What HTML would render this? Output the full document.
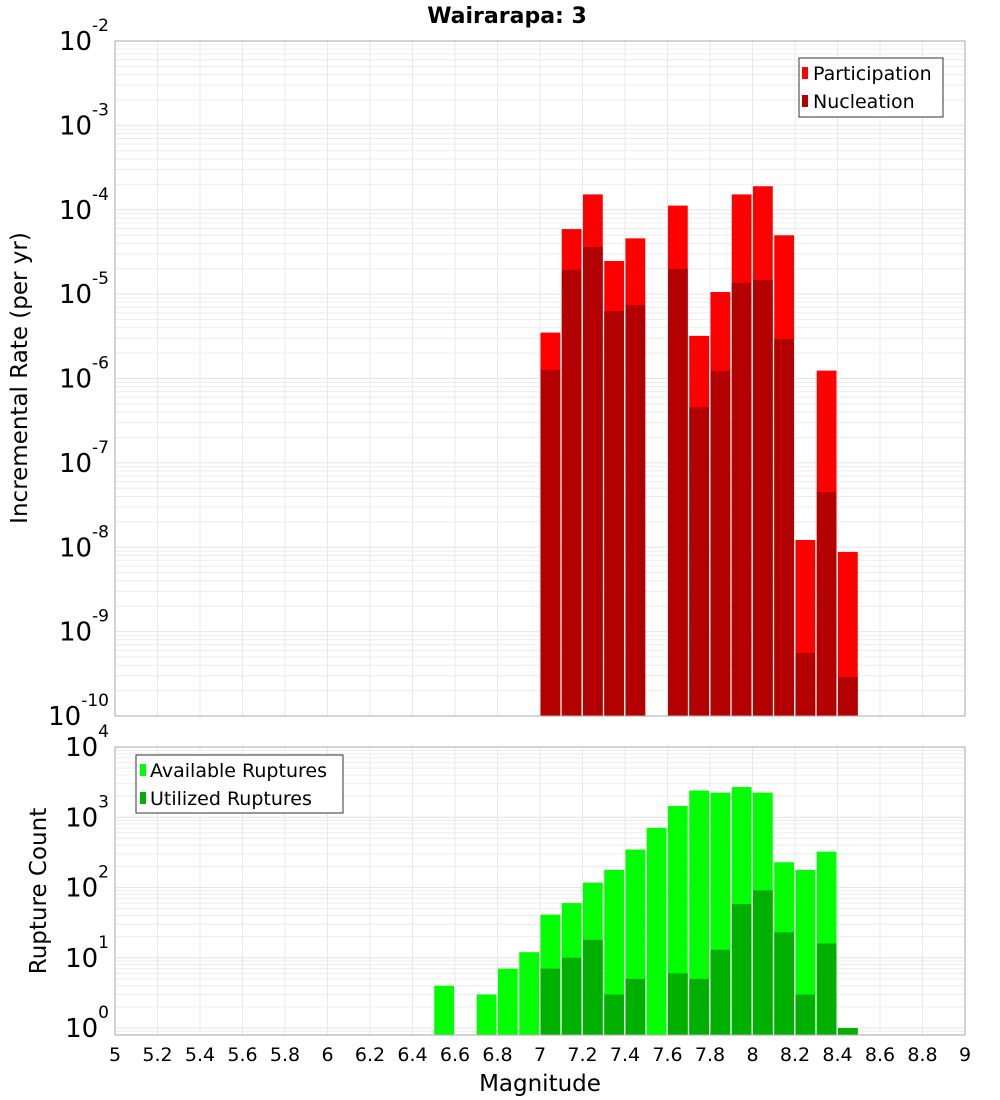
<!DOCTYPE html>
<html><head><meta charset="utf-8"><style>
body{margin:0;background:#fff;}
svg{display:block;font-family:"DejaVu Sans","Liberation Sans",sans-serif;}
</style></head><body>
<svg id="chart" width="1000" height="1100">
<text x="507" y="23" text-anchor="middle" font-size="22" font-weight="bold">Wairarapa: 3</text>
<text transform="translate(27,378) rotate(-90)" text-anchor="middle" font-size="23">Incremental Rate (per yr)</text>
<text transform="translate(46,891) rotate(-90)" text-anchor="middle" font-size="23">Rupture Count</text>
<text x="540" y="1091" text-anchor="middle" font-size="23">Magnitude</text>
<g id="top"></g>
<g id="bot"></g>
<g>
<rect x="799" y="58" width="144" height="59" fill="#fff" stroke="#333" stroke-width="1"/>
<rect x="802" y="67" width="6" height="12" fill="#ff0000"/>
<text x="813" y="80" font-size="19">Participation</text>
<rect x="802" y="95" width="6" height="12" fill="#b00000"/>
<text x="813" y="108" font-size="19">Nucleation</text>
</g>
<g>
<rect x="136" y="755" width="207" height="58" fill="#fff" stroke="#333" stroke-width="1"/>
<rect x="140" y="764" width="6" height="12" fill="#00ff00"/>
<text x="150" y="777" font-size="19">Available Ruptures</text>
<rect x="140" y="792" width="6" height="12" fill="#00b000"/>
<text x="150" y="805" font-size="19">Utilized Ruptures</text>
</g>
</svg>
<script>
const bins=[7.0,7.1,7.2,7.3,7.4,7.6,7.7,7.8,7.9,8.0,8.1,8.2,8.3,8.4];
const participation=[3.5e-6,5.9e-5,1.52e-4,2.47e-5,4.58e-5,1.12e-4,3.2e-6,1.06e-5,1.52e-4,1.9e-4,4.98e-5,1.22e-8,1.24e-6,8.8e-9];
const nucleation=[1.26e-6,1.93e-5,3.62e-5,6.3e-6,7.4e-6,1.99e-5,4.56e-7,1.23e-6,1.36e-5,1.47e-5,2.94e-6,5.6e-10,4.5e-8,2.9e-10];
const countBins=[6.5,6.7,6.8,6.9,7.0,7.1,7.2,7.3,7.4,7.5,7.6,7.7,7.8,7.9,8.0,8.1,8.2,8.3,8.4];
const available=[4,3,7,12,41,60,117,178,347,708,1445,2400,2240,2690,2240,229,178,324,1];
const utilized=[0,0,0,0,7,10,18,3,5,0,6,5,13,58,91,23,3,16,1];
const xTicks=[5,5.2,5.4,5.6,5.8,6,6.2,6.4,6.6,6.8,7,7.2,7.4,7.6,7.8,8,8.2,8.4,8.6,8.8,9];
const xTickLabels=["5","5.2","5.4","5.6","5.8","6","6.2","6.4","6.6","6.8","7","7.2","7.4","7.6","7.8","8","8.2","8.4","8.6","8.8","9"];
const topDecades=[-10,-9,-8,-7,-6,-5,-4,-3,-2];
const botDecades=[0,1,2,3,4];

const NS="http://www.w3.org/2000/svg";
const L=115,R=965;
const x=m=>L+(m-5)/4*(R-L);
function mk(parent,tag,attrs){const e=document.createElementNS(NS,tag);for(const k in attrs)e.setAttribute(k,attrs[k]);parent.appendChild(e);return e;}
function panel(g,top,bot,yOf,decMin,decMax,decades,name){
  for(let d=decMin;d<decMax;d++){for(let k=2;k<=9;k++){const yy=yOf(k*Math.pow(10,d));
    if(yy<top||yy>bot)continue;
    const ln=mk(g,'line',{x1:L,x2:R,y1:yy,y2:yy,stroke:'#ececec','stroke-width':1});
    
    }}
  decades.forEach(d=>{const yy=yOf(Math.pow(10,d));
    const ln=mk(g,'line',{x1:L,x2:R,y1:yy,y2:yy,stroke:'#e4e4e4','stroke-width':1});
    
    
    const t=mk(g,'text',{x:109,y:yy+9,'text-anchor':'end','font-size':26});
    
    
    t.textContent='10';
    const s=mk(t,'tspan',{dy:-19,'font-size':17});s.textContent=String(d);
  });
  xTicks.forEach(m=>{const ln=mk(g,'line',{x1:x(m),x2:x(m),y1:top,y2:bot,stroke:'#e8e8e8','stroke-width':1});
    
    });
}
function frame(g,top,bot,name){const r=mk(g,'rect',{x:L,y:top,width:R-L,height:bot-top,fill:'none',stroke:'#aaa','stroke-width':1});
  }
function bar(g,m,yTop,yBot,color,name){const b=mk(g,'rect',{x:x(m)+0.5,y:yTop,width:x(m+0.1)-x(m)-1.5,height:Math.max(0,yBot-yTop),fill:color});
  return b;}

const gT=document.getElementById('top');
const tTop=41,tBot=716;
const yT=v=>tTop+(-2-Math.log10(v))*(tBot-tTop)/8;
panel(gT,tTop,tBot,yT,-10,-2,topDecades,'top');
bins.forEach((m,i)=>{
  bar(gT,m,yT(participation[i]),tBot,'#ff0000','participation-bar');
  bar(gT,m,yT(nucleation[i]),tBot,'#b30000','nucleation-bar');
});
frame(gT,tTop,tBot,'top');

const gB=document.getElementById('bot');
const bTop=747,bBot=1035,dec=(1028-747)/4;
const yB=v=>bTop+(4-Math.log10(v))*dec;
panel(gB,bTop,bBot,yB,-1,4,botDecades,'bottom');
countBins.forEach((m,i)=>{
  if(available[i]>0)bar(gB,m,Math.min(yB(available[i]),bBot),bBot,'#00ff00','available-bar');
  if(utilized[i]>0)bar(gB,m,Math.min(yB(utilized[i]),bBot),bBot,'#00b000','utilized-bar');
});
frame(gB,bTop,bBot,'bottom');
xTicks.forEach((m,i)=>{const t=mk(gB,'text',{x:x(m),y:1061,'text-anchor':'middle','font-size':19});
  
  
  t.textContent=xTickLabels[i];});
</script>
</body></html>
